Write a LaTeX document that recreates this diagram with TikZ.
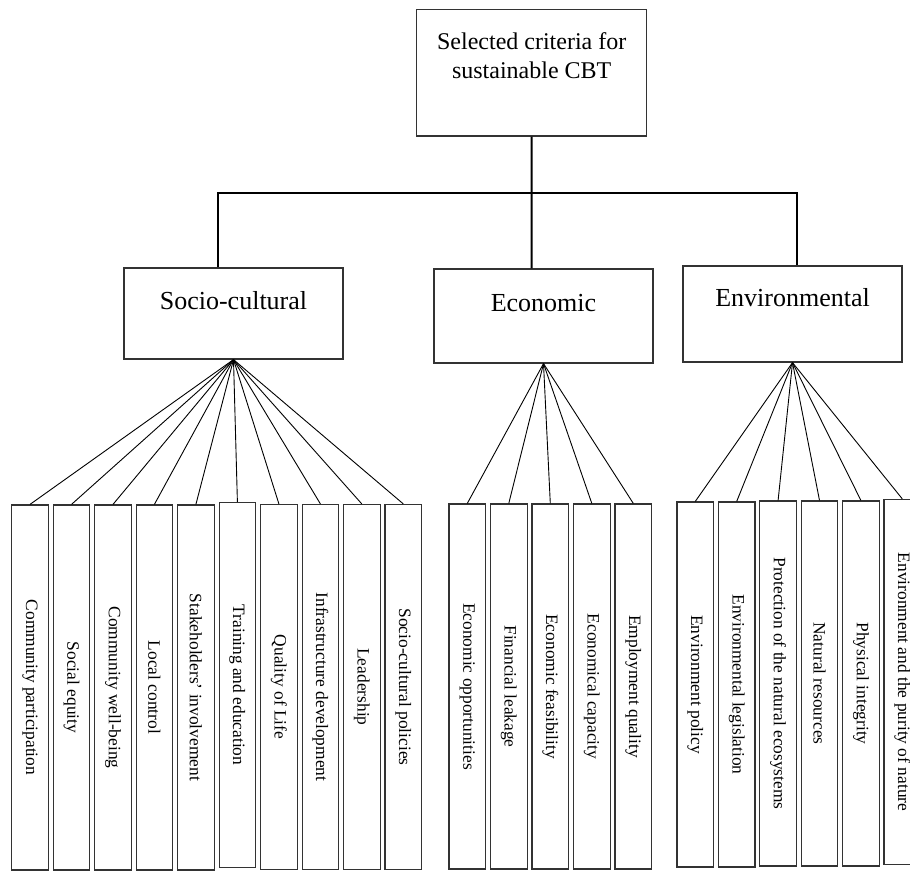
\documentclass[tikz,border=0pt]{standalone}
\usepackage{fontspec}
\setmainfont{Liberation Serif}
\usepackage{graphicx}

\begin{document}
\begin{tikzpicture}[x=0.5pt,y=0.5pt]
    \tikzstyle{every node}+=[inner sep=0pt]
    \tikzstyle{box}=[draw=black!80, line width=0.6pt, rectangle]
    \tikzstyle{topbox}=[box, minimum width=115pt, minimum height=63.4pt, align=center, font=\fontsize{12}{14.5}\selectfont, text depth=17.5pt]
    \tikzstyle{catbox}=[box, minimum width=109.5pt, font=\fontsize{13}{15.6}\selectfont, text height=9pt, text depth=13pt]
    \tikzstyle{leaf}=[box, minimum width=18.3pt, minimum height=182.5pt, font=\fontsize{8.7}{10}\selectfont]
    \tikzstyle{bus}=[line width=1pt]
    \tikzstyle{fan}=[line width=0.45pt]
    \useasboundingbox (0,0) rectangle (910,-871);
    \node [topbox] (crit) at (531.7,-72.7) {Selected criteria for\\sustainable CBT};
    \node [catbox, minimum height=45.5pt] (soc) at (233.5,-313.5) {Socio-cultural};
    \node [catbox, minimum height=47pt] (eco) at (543.5,-316) {Economic};
    \node [catbox, minimum height=48pt, text depth=16pt] (env) at (792.5,-314) {Environmental};
    \coordinate (hub) at (531.7,-193);
    \draw [bus] ([xshift=-7.75pt]soc.north) |- (hub) -| ([xshift=2.25pt]env.north);
    \draw [bus] (crit.south) -- ([xshift=-5.9pt]eco.north);
    \node [leaf] (sc1) at (30,-687.5) {\rotatebox{-90}{Community participation}};
    \node [leaf] (sc2) at (71.5,-687.5) {\rotatebox{-90}{Social equity}};
    \node [leaf] (sc3) at (113,-687.5) {\rotatebox{-90}{Community well-being}};
    \node [leaf] (sc4) at (154.4,-687.5) {\rotatebox{-90}{Local control}};
    \node [leaf] (sc5) at (195.9,-687.5) {\rotatebox{-90}{Stakeholders’ involvement}};
    \node [leaf] (sc6) at (237.4,-685) {\rotatebox{-90}{Training and education}};
    \node [leaf] (sc7) at (278.9,-687) {\rotatebox{-90}{Quality of Life}};
    \node [leaf] (sc8) at (320.4,-687) {\rotatebox{-90}{Infrastructure development}};
    \node [leaf] (sc9) at (361.8,-687) {\rotatebox{-90}{Leadership}};
    \node [leaf] (sc10) at (403.3,-687) {\rotatebox{-90}{Socio-cultural policies}};
    \node [leaf] (ec1) at (467.3,-686.5) {\rotatebox{-90}{Economic opportunities}};
    \node [leaf] (ec2) at (508.8,-686.5) {\rotatebox{-90}{Financial leakage}};
    \node [leaf] (ec3) at (550.3,-686.5) {\rotatebox{-90}{Economic feasibility}};
    \node [leaf] (ec4) at (591.8,-686.5) {\rotatebox{-90}{Economical capacity}};
    \node [leaf] (ec5) at (633.3,-686.5) {\rotatebox{-90}{Employment quality}};
    \node [leaf] (en1) at (695.3,-684.5) {\rotatebox{-90}{Environment policy}};
    \node [leaf] (en2) at (736.7,-684.5) {\rotatebox{-90}{Environmental legislation}};
    \node [leaf] (en3) at (778.1,-683.5) {\rotatebox{-90}{Protection of the natural ecosystems}};
    \node [leaf] (en4) at (819.5,-683.5) {\rotatebox{-90}{Natural resources}};
    \node [leaf] (en5) at (860.9,-683.5) {\rotatebox{-90}{Physical integrity}};
    \node [leaf] (en6) at (902.3,-682) {\rotatebox{-90}{Environment and the purity of nature}};
    \draw [fan] (soc.south) -- (sc1.north);
    \draw [fan] (soc.south) -- (sc2.north);
    \draw [fan] (soc.south) -- (sc3.north);
    \draw [fan] (soc.south) -- (sc4.north);
    \draw [fan] (soc.south) -- (sc5.north);
    \draw [fan] (soc.south) -- (sc6.north);
    \draw [fan] (soc.south) -- (sc7.north);
    \draw [fan] (soc.south) -- (sc8.north);
    \draw [fan] (soc.south) -- (sc9.north);
    \draw [fan] (soc.south) -- (sc10.north);
    \draw [fan] (eco.south) -- (ec1.north);
    \draw [fan] (eco.south) -- (ec2.north);
    \draw [fan] (eco.south) -- (ec3.north);
    \draw [fan] (eco.south) -- (ec4.north);
    \draw [fan] (eco.south) -- (ec5.north);
    \draw [fan] (env.south) -- (en1.north);
    \draw [fan] (env.south) -- (en2.north);
    \draw [fan] (env.south) -- (en3.north);
    \draw [fan] (env.south) -- (en4.north);
    \draw [fan] (env.south) -- (en5.north);
    \draw [fan] (env.south) -- (en6.north);
\end{tikzpicture}
\end{document}
